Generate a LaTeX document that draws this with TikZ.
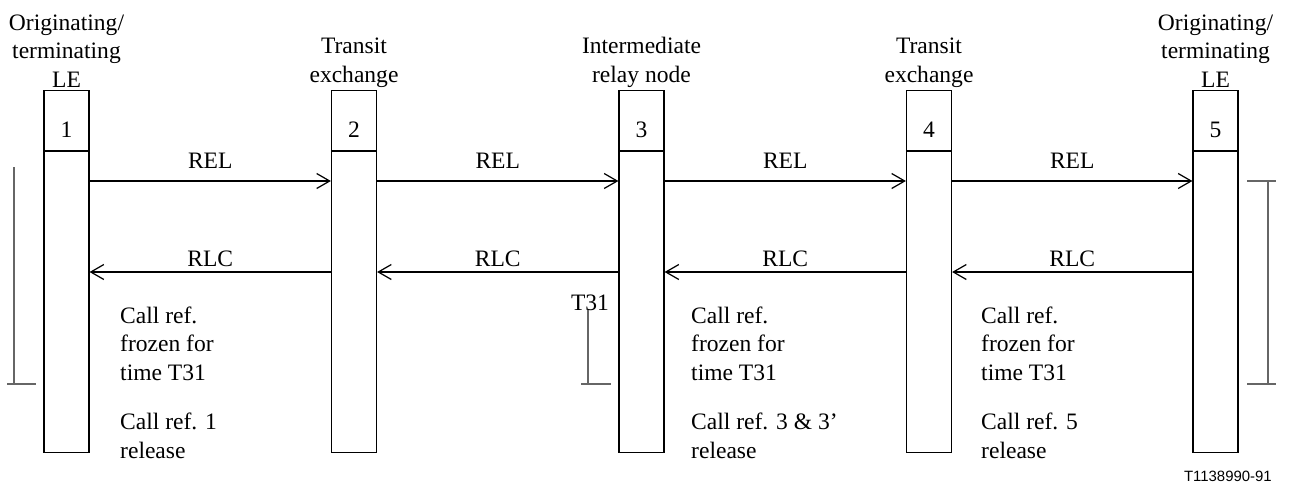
\documentclass[tikz,border=0pt]{standalone}
\usepackage{fontspec}
\setmainfont{Liberation Serif}
\newfontfamily\figsans{Liberation Sans}
\usetikzlibrary{arrows.meta}

\begin{document}
\begin{tikzpicture}[x=0.02cm, y=-0.02cm,
        font=\fontsize{13.4}{16.2}\selectfont,
        exch/.style={draw, line width=0.7pt, minimum width=0.9cm, minimum height=7.24cm, anchor=north, inner sep=0pt},
        msg/.style={line width=1.1pt, -{Straight Barb[length=0.26cm, width=0.3cm, line width=0.7pt]}},
        timer/.style={draw=black!60, line width=0.6pt},
        lbl/.style={anchor=base, align=center},
        note/.style={anchor=base west, align=left}]
        \useasboundingbox (0,0) rectangle (1289,488);
        % exchanges
        \node[exch] (e1) at (66.5,90) {};
        \node[exch] (e2) at (354,90) {};
        \node[exch] (e3) at (641.5,90) {};
        \node[exch] (e4) at (929,90) {};
        \node[exch] (e5) at (1215.5,90) {};
        \foreach \e in {e1,e2,e3,e4,e5}
            \draw[line width=1.1pt] ([yshift=-1.22cm]\e.north west) -- ([yshift=-1.22cm]\e.north east);
        \node[lbl] (n1) at (66.5,137) {1};
        \node[lbl] (n2) at (354,137) {2};
        \node[lbl] (n3) at (641.5,137) {3};
        \node[lbl] (n4) at (929,137) {4};
        \node[lbl] (n5) at (1215.5,137) {5};
        % headings (base = last line)
        \node[lbl] (h1) at (66.5,87) {Originating/\\terminating\\LE};
        \node[lbl] (h2) at (354,82) {Transit\\exchange};
        \node[lbl] (h3) at (641.5,82) {Intermediate\\relay node};
        \node[lbl] (h4) at (929,82) {Transit\\exchange};
        \node[lbl] (h5) at (1215.5,87) {Originating/\\terminating\\LE};
        % messages
        \coordinate (rel) at (0,181);
        \coordinate (rlc) at (0,272);
        \draw[msg] (e1.east |- rel) -- node[lbl, yshift=0.26cm] (rel1) {REL} (e2.west |- rel);
        \draw[msg] (e2.east |- rel) -- node[lbl, yshift=0.26cm] (rel2) {REL} (e3.west |- rel);
        \draw[msg] (e3.east |- rel) -- node[lbl, yshift=0.26cm] (rel3) {REL} (e4.west |- rel);
        \draw[msg] (e4.east |- rel) -- node[lbl, yshift=0.26cm] (rel4) {REL} (e5.west |- rel);
        \draw[msg] (e2.west |- rlc) -- node[lbl, yshift=0.12cm] (rlc1) {RLC} (e1.east |- rlc);
        \draw[msg] (e3.west |- rlc) -- node[lbl, yshift=0.12cm] (rlc2) {RLC} (e2.east |- rlc);
        \draw[msg] (e4.west |- rlc) -- node[lbl, yshift=0.12cm] (rlc3) {RLC} (e3.east |- rlc);
        \draw[msg] (e5.west |- rlc) -- node[lbl, yshift=0.12cm] (rlc4) {RLC} (e4.east |- rlc);
        % notes
        \node[note] (f1) at (114,380) {Call ref.\\frozen for\\time T31};
        \node[note] (r1) at (114,458) {Call ref. 1\\release};
        \node[note] (f3) at (685,380) {Call ref.\\frozen for\\time T31};
        \node[note] (r3) at (685,458) {Call ref. 3 \& 3’\\release};
        \node[note] (f4) at (975,380) {Call ref.\\frozen for\\time T31};
        \node[note] (r4) at (975,458) {Call ref. 5\\release};
        % timers
        \draw[timer] (14,167) -- (14,384);
        \draw[timer] (7,384) -- (36,384);
        \node[lbl] (t31) at (590,310) {T31};
        \draw[timer] (588,310) -- (588,384);
        \draw[timer] (581,384) -- (611,384);
        \draw[timer] (1268,181) -- (1268,384);
        \draw[timer] (1247,181) -- (1276,181);
        \draw[timer] (1247,384) -- (1276,384);
        \node[anchor=base east, font=\figsans\fontsize{8.5}{10}\selectfont] (fig) at (1278,481) {T1138990-91};
\end{tikzpicture}
\end{document}
